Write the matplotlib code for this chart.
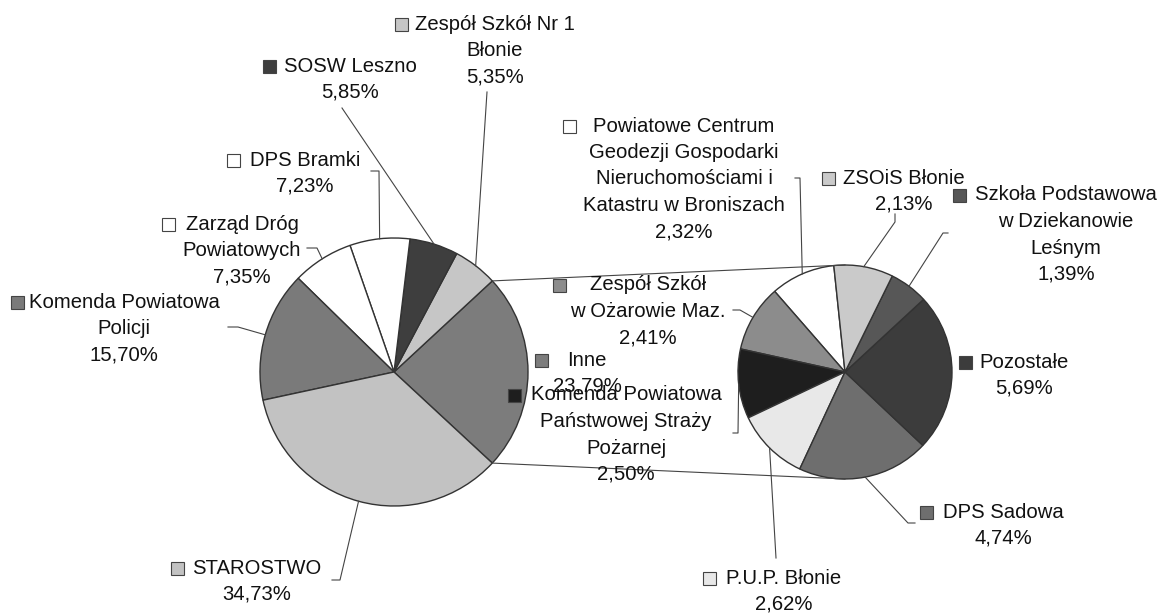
import numpy as np
import matplotlib
matplotlib.use("Agg")
import matplotlib.pyplot as plt
from matplotlib.patches import Rectangle

# ---------------- data ----------------
main_labels = ["Inne", "Zespół Szkół Nr 1\nBłonie", "SOSW Leszno", "DPS Bramki",
               "Zarząd Dróg\nPowiatowych", "Komenda Powiatowa\nPolicji", "STAROSTWO"]
main_values = [23.79, 5.35, 5.85, 7.23, 7.35, 15.70, 34.73]
main_pct = ["23,79%", "5,35%", "5,85%", "7,23%", "7,35%", "15,70%", "34,73%"]

sec_labels = ["Powiatowe Centrum\nGeodezji Gospodarki\nNieruchomościami i\nKatastru w Broniszach",
              "Zespół Szkół\nw Ożarowie Maz.",
              "Komenda Powiatowa\nPaństwowej Straży\nPożarnej",
              "P.U.P. Błonie", "DPS Sadowa", "Pozostałe",
              "Szkoła Podstawowa\nw Dziekanowie\nLeśnym", "ZSOiS Błonie"]
sec_values = [2.32, 2.41, 2.50, 2.62, 4.74, 5.69, 1.39, 2.13]
sec_pct = ["2,32%", "2,41%", "2,50%", "2,62%", "4,74%", "5,69%", "1,39%", "2,13%"]

# ---------------- style ----------------
main_colors = ["#7c7c7c", "#c6c6c6", "#3e3e3e", "#ffffff", "#ffffff", "#7a7a7a", "#c2c2c2"]
sec_colors = ["#ffffff", "#8c8c8c", "#1e1e1e", "#e8e8e8", "#6e6e6e", "#3c3c3c", "#575757", "#cacaca"]

W, H = 1163, 614
MAIN_C, MAIN_R = (394, 372), 134
SEC_C, SEC_R = (845, 372), 107

# label layout in pixel coords (y from top): text centre x, first line y, square left x
main_layout = [
    (587, 360, 535), (495, 24, 395), (350, 66, 263), (305, 160, 227),
    (242, 224, 162), (124, 302, 11), (257, 568, 171)]
sec_layout = [
    (684, 126, 563), (648, 285, 553), (626, 395, 508), (784, 578, 703),
    (1003, 512, 920), (1024, 362, 959), (1066, 195, 953), (904, 178, 822)]
# leader line points (pixel coords) from label towards the wedge
main_leaders = [None, [(487, 92)], [(342, 108)], [(371, 171), (379, 171)],
                [(307, 248), (317, 248)], [(228, 327), (238, 327)],
                [(332, 580), (340, 580)]]
sec_leaders = [[(795, 178), (800, 178)], [(733, 310), (740, 310)],
               [(733, 433), (738, 433)], [(776, 558)],
               [(915, 523), (908, 523)], None,
               [(948, 233), (943, 233)], [(895, 214), (895, 222)]]

plt.rcParams['font.family'] = ['Liberation Sans', 'DejaVu Sans']

fig = plt.figure(figsize=(W / 100, H / 100), dpi=100)
ax = fig.add_axes([0, 0, 1, 1])


def py(y):
    return H - y


main_start = -main_values[0] / sum(main_values) * 180.0
wm, _ = ax.pie(main_values, colors=main_colors, startangle=main_start,
               center=(MAIN_C[0], py(MAIN_C[1])), radius=MAIN_R, frame=True,
               wedgeprops=dict(edgecolor="#333333", linewidth=1.0))
ws, _ = ax.pie(sec_values, colors=sec_colors, startangle=96,
               center=(SEC_C[0], py(SEC_C[1])), radius=SEC_R, frame=True,
               wedgeprops=dict(edgecolor="#333333", linewidth=1.0))
ax.set_xlim(0, W)
ax.set_ylim(0, H)
ax.set_aspect('equal')
ax.axis('off')

# connector lines between the "Inne" slice and the secondary pie
w0 = wm[0]
for ang, sy in [(w0.theta2, SEC_C[1] - SEC_R), (w0.theta1, SEC_C[1] + SEC_R)]:
    x0 = MAIN_C[0] + MAIN_R * np.cos(np.radians(ang))
    y0 = py(MAIN_C[1]) + MAIN_R * np.sin(np.radians(ang))
    ax.plot([x0, SEC_C[0]], [y0, py(sy)], color="#444444", lw=0.8, zorder=1)

LS = 26.5
FS = 14.6


def draw_label(name, pct, color, layout, leader, wedge, center, radius):
    cx, y1, sqx = layout
    lines = name.split("\n") + [pct]
    for i, ln in enumerate(lines):
        ax.text(cx, py(y1 + i * LS), ln, ha='center', va='center',
                fontsize=FS, color="#111111", zorder=5)
    ax.add_patch(Rectangle((sqx, py(y1) - 7), 13, 13, facecolor=color,
                           edgecolor="#444444", lw=0.8, zorder=5))
    if leader is not None:
        mid = np.radians((wedge.theta1 + wedge.theta2) / 2)
        ex = center[0] + radius * np.cos(mid)
        ey = py(center[1]) + radius * np.sin(mid)
        xs = [p[0] for p in leader] + [ex]
        ys = [py(p[1]) for p in leader] + [ey]
        ax.plot(xs, ys, color="#444444", lw=0.8, zorder=4)


for i in range(len(main_values)):
    draw_label(main_labels[i], main_pct[i], main_colors[i], main_layout[i],
               main_leaders[i], wm[i], MAIN_C, MAIN_R)
for i in range(len(sec_values)):
    draw_label(sec_labels[i], sec_pct[i], sec_colors[i], sec_layout[i],
               sec_leaders[i], ws[i], SEC_C, SEC_R)

fig.savefig("out.png", dpi=100, facecolor="white")
